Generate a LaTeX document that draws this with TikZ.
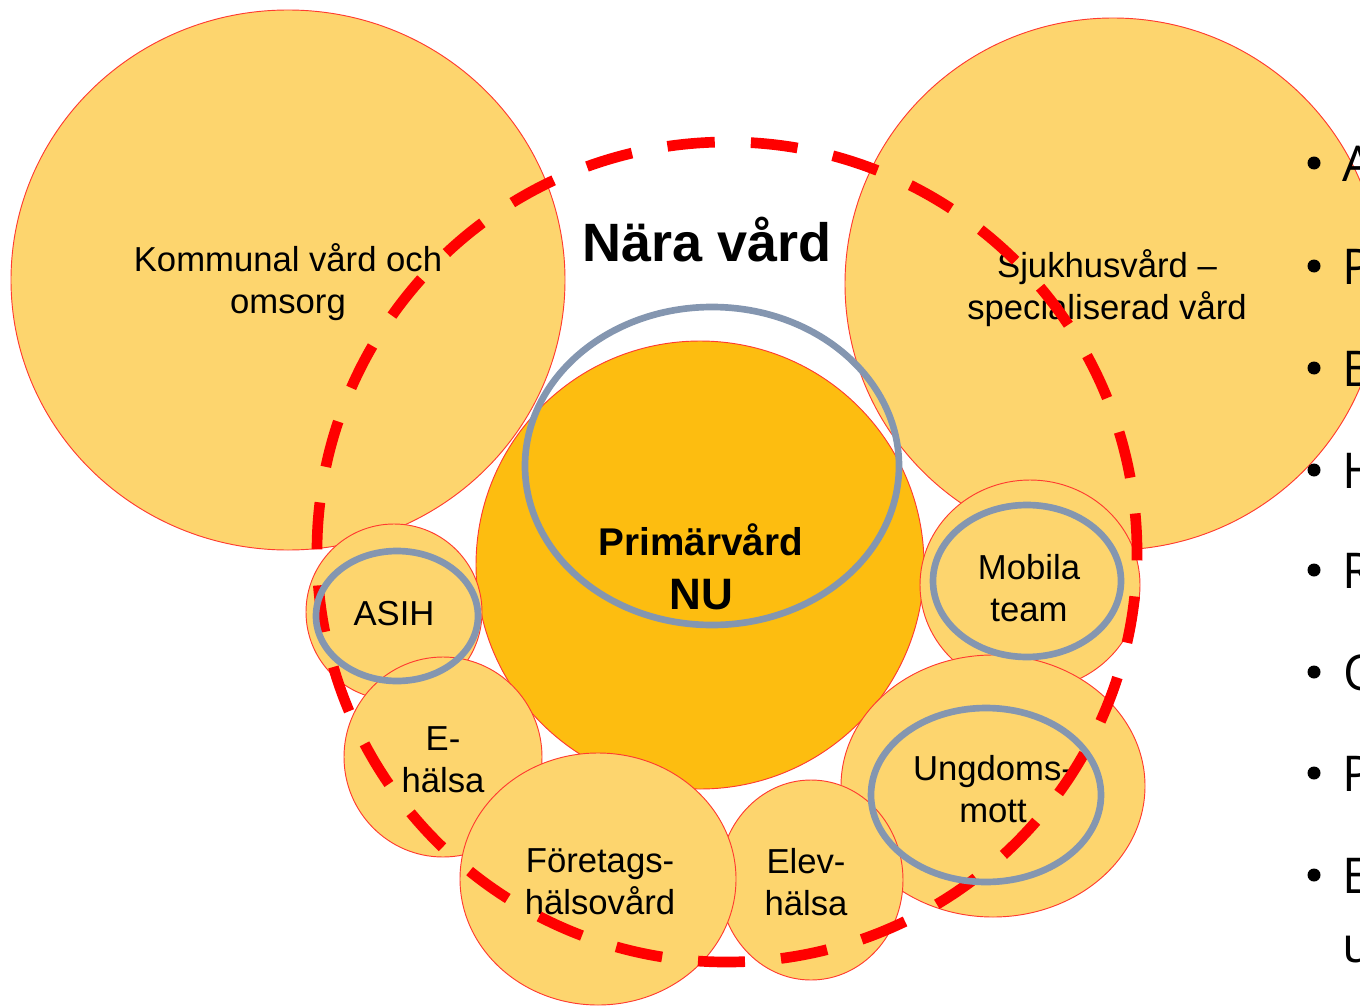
\documentclass[tikz,border=0pt]{standalone}
\usepackage{fontspec}
\setmainfont{Liberation Sans}
\newfontfamily\bulletfont{Open Sans}
\definecolor{bubfill}{HTML}{FDD56E}
\definecolor{corefill}{HTML}{FDBD10}
\definecolor{bubred}{HTML}{FF3B30}
\definecolor{dashred}{HTML}{FF0000}
\definecolor{greyring}{HTML}{8496B0}
\begin{document}
\begin{tikzpicture}[x=0.75pt,y=-0.75pt,
  bub/.style={draw=bubred, line width=0.7pt, fill=bubfill},
  core/.style={draw=bubred, line width=0.7pt, fill=corefill},
  ring/.style={draw=greyring, line width=5pt},
  reddash/.style={draw=dashred, line width=8pt, dash pattern=on 35.25pt off 27.07pt, dash phase=17.6pt},
  lbl/.style={align=center, font=\fontsize{26}{31.5}\selectfont, text=black, inner sep=0pt},
  bul/.style={anchor=base west, inner sep=0pt, font=\bulletfont\fontsize{37}{50}\selectfont}
]
\useasboundingbox (0,0) rectangle (1360,1006);
\clip (0,0) rectangle (1360,1006);

% large circles
\draw[bub] (288,280) ellipse [x radius=277, y radius=270];
\draw[bub] (1113,284) ellipse [x radius=268, y radius=266];
% core
\draw[core] (700,565) circle [radius=224];
% small circles
\draw[bub] (1030,585) ellipse [x radius=110, y radius=105];
\draw[bub] (394,612) ellipse [x radius=88, y radius=88];
\draw[bub] (993,786) ellipse [x radius=152, y radius=131];
\draw[bub] (811,880) ellipse [x radius=92, y radius=100];
\draw[bub] (443,757) ellipse [x radius=99, y radius=100];
\draw[bub] (598,879) ellipse [x radius=138, y radius=126];

% labels
\node[lbl] (kom) at (288,282) {Kommunal vård och\\omsorg};
\node[lbl] (sjuk) at (1107,288) {Sjukhusvård –\\specialiserad vård};
\node[inner sep=0pt, font=\bfseries\fontsize{40.5}{48}\selectfont] (nara) at (707,240) {Nära vård};
\node[inner sep=0pt, font=\bfseries\fontsize{29}{34}\selectfont] (prim) at (701,540) {Primärvård};
\node[inner sep=0pt, font=\bfseries\fontsize{33}{40}\selectfont] (nu) at (701,595) {NU};
\node[lbl] (asih) at (394,614) {ASIH};
\node[lbl] (ehal) at (443,760) {E-\\hälsa};
\node[lbl] (mob) at (1029,588) {Mobila\\team};
\node[lbl] (ung) at (993,789) {Ungdoms-\\mott};
\node[lbl] (fore) at (600,882) {Företags-\\hälsovård};
\node[lbl] (elev) at (806,882) {Elev-\\hälsa};

% red dashed boundary
\draw[reddash] (727,552) ++(265:410) arc[start angle=265, end angle=625, radius=410];

% grey rings
\draw[ring] (712,466) ellipse [x radius=187, y radius=159];
\draw[ring] (397,616) ellipse [x radius=81, y radius=65];
\draw[ring] (1027,581) ellipse [x radius=94, y radius=76];
\draw[ring] (986,795) ellipse [x radius=115, y radius=87];

% bullet list (cut off at the right edge)
\foreach \yy in {163,266,368,470,570,672,773,875} { \fill (1314,\yy) circle [radius=6.5]; }
\node[bul] (b1) at (1342,181) {A};
\node[bul] (b2) at (1342,284) {P};
\node[bul] (b3) at (1342,386) {B};
\node[bul] (b4) at (1342,488) {H};
\node[bul] (b5) at (1342,588) {R};
\node[bul] (b6) at (1343,690) {O};
\node[bul] (b7) at (1342,791) {P};
\node[bul] (b8) at (1342,893) {E};
\node[bul] (b9) at (1342,962) {u};
\end{tikzpicture}
\end{document}
